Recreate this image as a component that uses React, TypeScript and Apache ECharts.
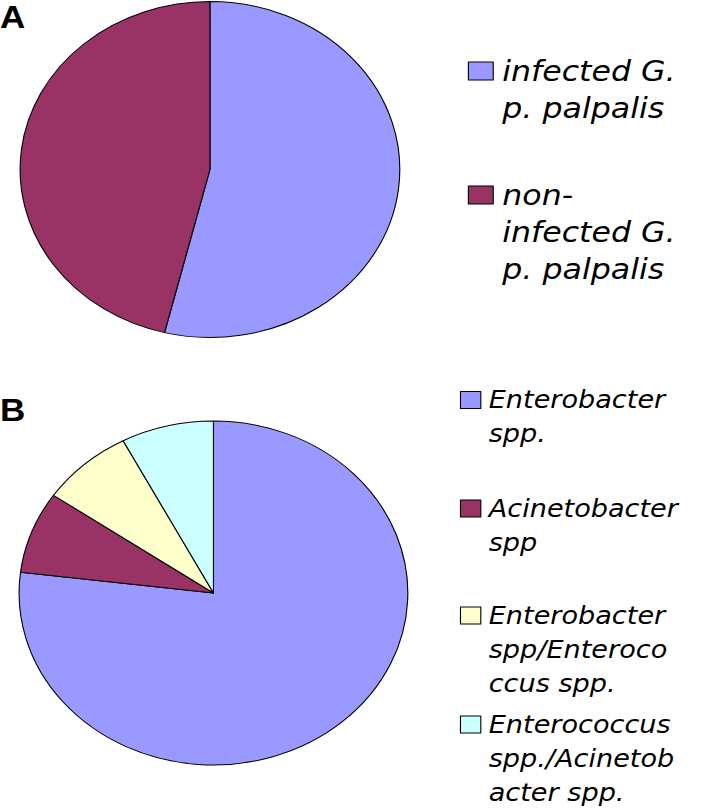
import { useEffect, useRef } from "react";
import * as echarts from "echarts";

// ---- data ----
const panelLetters = ["A", "B"];

const namesA = ["infected G. p. palpalis", "non-infected G. p. palpalis"];
const valuesA = [7, 6];
const labelsA = ["infected G.\np. palpalis", "non-\ninfected G.\np. palpalis"];
const colorsA = ["#9999FF", "#993366"];

const namesB = [
  "Enterobacter spp.",
  "Acinetobacter spp",
  "Enterobacter spp/Enterococcus spp.",
  "Enterococcus spp./Acinetobacter spp.",
];
const valuesB = [10, 1, 1, 1];
const labelsB = [
  "Enterobacter\nspp.",
  "Acinetobacter\nspp",
  "Enterobacter\nspp/Enteroco\nccus spp.",
  "Enterococcus\nspp./Acinetob\nacter spp.",
];
const colorsB = ["#9999FF", "#993366", "#FFFFCC", "#CCFFFF"];

// ---- layout ----
const SX = 1.13;
const W = 627;
const H = 811;
const swatchCentersA = [71, 195];
const swatchCentersB = [400, 508.5, 615.5, 724.5];

function itemLegend(
  name: string,
  label: string,
  left: number,
  centerY: number,
  iw: number,
  ih: number,
  fontSize: number,
  lh: number,
  padLeft: number
) {
  const n = label.split("\n").length;
  // leading blank lines so that the first real line sits beside the swatch
  const shown = "\n".repeat(n - 1) + label;
  return {
    data: [name],
    orient: "vertical",
    left,
    top: centerY - ((2 * n - 1) * lh) / 2,
    padding: 0,
    itemWidth: iw,
    itemHeight: ih,
    selectedMode: false,
    icon: "rect",
    itemStyle: { borderColor: "#000", borderWidth: 1 },
    formatter: () => shown,
    textStyle: {
      fontFamily: "DejaVu Sans",
      fontStyle: "italic",
      fontSize,
      lineHeight: lh,
      color: "#000",
      padding: [0, 0, 0, padLeft],
      backgroundColor: "rgba(0,0,0,0)",
    },
  };
}

export default function App() {
  const ref = useRef<HTMLDivElement>(null);
  useEffect(() => {
    if (!ref.current) return;
    const chart = echarts.init(ref.current, undefined, { renderer: "svg" });
    const legends = [
      ...namesA.map((n, i) =>
        itemLegend(n, labelsA[i], 414, swatchCentersA[i], 22, 18, 28, 37, 3)
      ),
      ...namesB.map((n, i) =>
        itemLegend(n, labelsB[i], 407, swatchCentersB[i], 18, 17, 24, 34, 2)
      ),
    ];
    const pieCommon = {
      type: "pie",
      startAngle: 90,
      clockwise: true,
      label: { show: false },
      labelLine: { show: false },
      itemStyle: { borderColor: "#000", borderWidth: 1 },
      emphasis: { disabled: true },
      silent: true,
    };
    chart.setOption({
      animation: false,
      backgroundColor: "#fff",
      title: panelLetters.map((t, i) => ({
        text: t,
        left: 0,
        top: [2, 395][i],
        padding: 0,
        textStyle: {
          fontFamily: "Liberation Sans",
          fontWeight: "bold",
          fontSize: 31,
          color: "#000",
        },
      })),
      legend: legends,
      series: [
        {
          ...pieCommon,
          name: "A",
          center: [185.8, 169.5],
          radius: 168,
          data: namesA.map((n, i) => ({
            name: n,
            value: valuesA[i],
            itemStyle: { color: colorsA[i] },
          })),
        },
        {
          ...pieCommon,
          name: "B",
          center: [188.9, 593],
          radius: 172,
          data: namesB.map((n, i) => ({
            name: n,
            value: valuesB[i],
            itemStyle: { color: colorsB[i] },
          })),
        },
      ],
    });
    return () => chart.dispose();
  }, []);
  return (
    <div
      ref={ref}
      style={{
        position: "absolute",
        left: 0,
        top: 0,
        width: W,
        height: H,
        transform: `scaleX(${SX})`,
        transformOrigin: "0 0",
      }}
    />
  );
}
